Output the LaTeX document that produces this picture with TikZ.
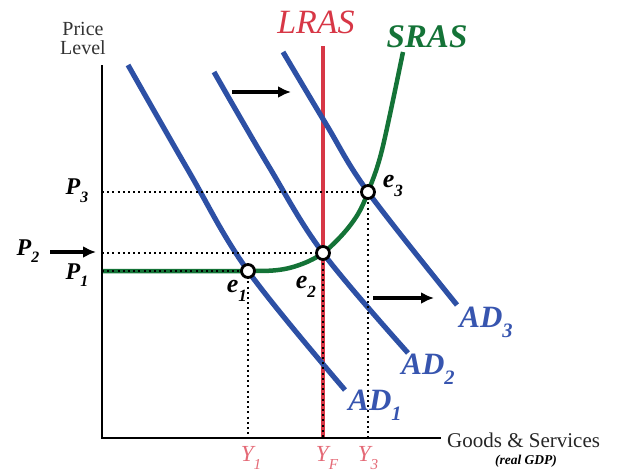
\documentclass[tikz,border=0pt]{standalone}
\usepackage{fontspec}
\setmainfont{Liberation Serif}
\usetikzlibrary{arrows.meta}
\definecolor{adblue}{RGB}{45,80,165}
\definecolor{adlab}{RGB}{55,85,175}
\definecolor{lrasred}{RGB}{215,55,70}
\definecolor{srasgreen}{RGB}{20,115,55}
\definecolor{ypink}{RGB}{228,105,118}
\newcommand\mysub[2]{#1\raisebox{-0.32em}{\scalebox{0.66}{#2}}}
\begin{document}
\begin{tikzpicture}[x=1pt,y=-1pt,
  axis/.style={line width=2pt,black},
  adline/.style={line width=5.2pt,adblue},
  guide/.style={line width=2pt,black,dash pattern=on 2pt off 3.2pt},
  eq/.style={circle,draw=black,fill=white,line width=2.8pt,minimum size=13pt,inner sep=0pt},
  shiftarrow/.style={line width=3.4pt,-{Latex[length=13pt,width=12pt]}},
  adtext/.style={adlab,font=\fontsize{31}{31}\selectfont\bfseries\itshape,inner sep=0pt},
  ptext/.style={font=\fontsize{24}{24}\selectfont\bfseries\itshape,inner sep=0pt},
  etext/.style={font=\fontsize{26}{26}\selectfont\bfseries\itshape,inner sep=0pt},
  ytext/.style={ypink,font=\fontsize{23}{23}\selectfont\itshape,inner sep=0pt}]
\useasboundingbox (0,0) rectangle (638,474);

% coordinates
\coordinate (O) at (102,438);
\coordinate (ytop) at (102,65);
\coordinate (xend) at (441,438);
\coordinate (e1c) at (248,271);
\coordinate (e2c) at (323,253);
\coordinate (e3c) at (368,192);
\coordinate (p1ax) at (102,271);
\coordinate (p2ax) at (102,253);
\coordinate (p3ax) at (102,192);
\coordinate (y1ax) at (248,438);
\coordinate (yfax) at (323,438);
\coordinate (y3ax) at (368,438);
\coordinate (lrastop) at (323,46);

% LRAS
\draw[lrasred,line width=3.2pt] (lrastop) -- (yfax);

% AD curves
\draw[adline] plot[smooth,tension=0.6] coordinates {(128,65) (188,170) (248,271) (345,390)};
\draw[adline] plot[smooth,tension=0.6] coordinates {(214,72) (268,165) (323,253) (408,353)};
\draw[adline] plot[smooth,tension=0.6] coordinates {(283,52) (326,124) (368,192) (457,305)};

% SRAS
\draw[srasgreen,line width=4.5pt] plot[smooth,tension=0.55] coordinates {(102,271) (240,271) (278,270) (302,264) (323,253) (343,234) (358,214) (368,192) (382,150) (403,52)};

% guides
\draw[guide] (p1ax) -- (e1c);
\draw[guide] (p2ax) -- (e2c);
\draw[guide] (p3ax) -- (e3c);
\draw[guide] (e1c) -- (y1ax);
\draw[guide] (e2c) -- (yfax);
\draw[guide] (e3c) -- (y3ax);

% axes
\draw[axis] (ytop) -- (O) -- (xend);

% equilibria
\node[eq] (e1) at (e1c) {};
\node[eq] (e2) at (e2c) {};
\node[eq] (e3) at (e3c) {};

% shift arrows
\coordinate (a1s) at (232,92); \coordinate (a1e) at (291,92);
\coordinate (a2s) at (373,298); \coordinate (a2e) at (434,298);
\coordinate (a3s) at (50,252); \coordinate (a3e) at (96,252);
\draw[shiftarrow] (a1s) -- (a1e);
\draw[shiftarrow] (a2s) -- (a2e);
\draw[shiftarrow] (a3s) -- (a3e);

% labels
\node[align=center,font=\fontsize{20}{19}\selectfont,text=black!80,inner sep=0pt] (plabel) at (83,38) {Price\\Level};
\node[lrasred,font=\fontsize{34}{34}\selectfont\itshape,inner sep=0pt] (lraslab) at (316,22) {LRAS};
\node[srasgreen,font=\fontsize{33}{33}\selectfont\bfseries\itshape,inner sep=0pt] (sraslab) at (427,37) {SRAS};
\node[adtext] (ad1) at (375,405) {\mysub{AD}{1}};
\node[adtext] (ad2) at (428,369) {\mysub{AD}{2}};
\node[adtext] (ad3) at (486,322) {\mysub{AD}{3}};
\node[ptext] (p3) at (77,191) {\mysub{P}{3}};
\node[ptext] (p2) at (28,251) {\mysub{P}{2}};
\node[ptext] (p1) at (77,275) {\mysub{P}{1}};
\node[etext] (e1l) at (237,291) {\mysub{e}{1}};
\node[etext] (e2l) at (306,287) {\mysub{e}{2}};
\node[etext] (e3l) at (393,186) {\mysub{e}{3}};
\node[ytext] (y1l) at (251,458) {\mysub{Y}{1}};
\node[ytext] (yfl) at (327,458) {\mysub{Y}{F}};
\node[ytext] (y3l) at (368,458) {\mysub{Y}{3}};
\node[anchor=west,font=\fontsize{21}{21}\selectfont,text=black!85,inner sep=0pt] (gslab) at (447,440) {Goods \& Services};
\node[font=\fontsize{13.5}{13.5}\selectfont\bfseries\itshape,inner sep=0pt] (gdp) at (526,461) {(real GDP)};
\end{tikzpicture}
\end{document}
